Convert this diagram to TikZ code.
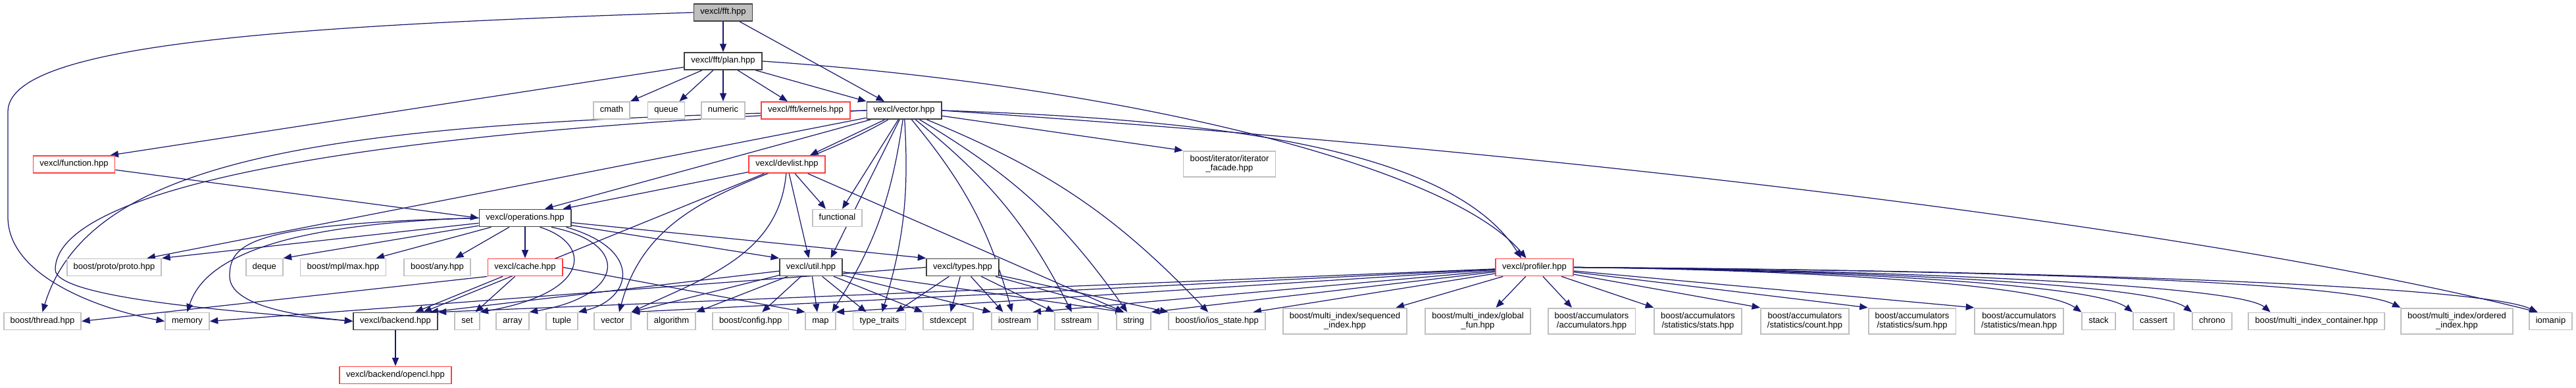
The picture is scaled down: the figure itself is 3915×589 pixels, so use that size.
\documentclass[tikz,border=0pt]{standalone}
\usepackage{fontspec}
\setmainfont{Liberation Sans}
\usetikzlibrary{arrows.meta, backgrounds}
\definecolor{edgeBlue}{HTML}{191970}
\definecolor{boxGray}{HTML}{BFBFBF}
\definecolor{boxDark}{HTML}{404040}
\definecolor{boxRed}{HTML}{FF4040}

\begin{document}
\begin{tikzpicture}[x=0.02cm, y=0.02cm,
    hbox/.style={rectangle, draw, fill=white, line width=1pt, minimum height=0.5cm,
      inner xsep=0.2cm, inner ysep=0.12cm, align=center, font=\fontsize{7.4}{8}\selectfont\strut},
    docbox/.style={hbox, draw=boxDark},
    sysbox/.style={hbox, draw=boxGray},
    redbox/.style={hbox, draw=boxRed},
    rootbox/.style={hbox, draw=boxDark, fill=boxGray},
    inc/.style={-{Triangle[length=0.25cm, width=0.2cm]}, edgeBlue, line width=0.7pt}
  ]
  \useasboundingbox (0,0) rectangle (3915,-589);

  % top of the graph
  \node[rootbox] (fft) at (1099,-19) {vexcl/fft.hpp};
  \node[docbox] (plan) at (1099,-93) {vexcl/fft/plan.hpp};
  \node[sysbox] (cmath) at (929.5,-168) {cmath};
  \node[sysbox] (queue) at (1012.5,-168) {queue};
  \node[sysbox] (numeric) at (1099,-168) {numeric};
  \node[redbox] (kernels) at (1224.5,-168) {vexcl/fft/kernels.hpp};
  \node[docbox] (vectorh) at (1374,-168) {vexcl/vector.hpp};
  \node[redbox] (function) at (112.5,-250) {vexcl/function.hpp};
  \node[redbox] (devlist) at (1196,-250) {vexcl/devlist.hpp};
  \node[sysbox] (facade) at (1868.5,-249.5) {boost/iterator/iterator\\\_facade.hpp};
  \node[docbox] (ops) at (798,-331.5) {vexcl/operations.hpp};
  \node[sysbox] (functional) at (1272.5,-331.5) {functional};

  % middle row
  \node[sysbox] (proto) at (173.5,-406.5) {boost/proto/proto.hpp};
  \node[sysbox] (deque) at (401.7,-406.5) {deque};
  \node[sysbox] (mpl) at (521.5,-406.5) {boost/mpl/max.hpp};
  \node[sysbox] (any) at (664.5,-406.5) {boost/any.hpp};
  \node[redbox] (cache) at (798,-406.5) {vexcl/cache.hpp};
  \node[docbox] (util) at (1232.5,-406.5) {vexcl/util.hpp};
  \node[docbox] (types) at (1463,-406.5) {vexcl/types.hpp};
  \node[redbox] (profiler) at (2332,-406.5) {vexcl/profiler.hpp};

  % bottom row
  \node[sysbox] (thread) at (64.5,-488.5) {boost/thread.hpp};
  \node[sysbox] (memory) at (284.5,-488.5) {memory};
  \node[docbox] (backend) at (601,-488.5) {vexcl/backend.hpp};
  \node[sysbox] (set) at (710,-488.5) {set};
  \node[sysbox] (array) at (779,-488.5) {array};
  \node[sysbox] (tuple) at (854,-488.5) {tuple};
  \node[sysbox] (vecstd) at (931,-488.5) {vector};
  \node[sysbox] (algorithm) at (1020.5,-488.5) {algorithm};
  \node[sysbox] (config) at (1140.7,-488.5) {boost/config.hpp};
  \node[sysbox] (map) at (1247,-488.5) {map};
  \node[sysbox] (traits) at (1336.5,-488.5) {type\_traits};
  \node[sysbox] (stdexcept) at (1441,-488.5) {stdexcept};
  \node[sysbox] (iostream) at (1542,-488.5) {iostream};
  \node[sysbox] (sstream) at (1636,-488.5) {sstream};
  \node[sysbox] (string) at (1723,-488.5) {string};
  \node[sysbox] (iosstate) at (1849.5,-488.5) {boost/io/ios\_state.hpp};
  \node[sysbox] (sequenced) at (2044,-488.5) {boost/multi\_index/sequenced\\\_index.hpp};
  \node[sysbox] (globalfun) at (2246,-488.5) {boost/multi\_index/global\\\_fun.hpp};
  \node[sysbox] (accum) at (2419,-488.5) {boost/accumulators\\/accumulators.hpp};
  \node[sysbox] (stats) at (2580.5,-488.5) {boost/accumulators\\/statistics/stats.hpp};
  \node[sysbox] (count) at (2743,-488.5) {boost/accumulators\\/statistics/count.hpp};
  \node[sysbox] (sum) at (2906,-488.5) {boost/accumulators\\/statistics/sum.hpp};
  \node[sysbox] (mean) at (3068.6,-488.5) {boost/accumulators\\/statistics/mean.hpp};
  \node[sysbox] (stack) at (3189.5,-488.5) {stack};
  \node[sysbox] (cassert) at (3273,-488.5) {cassert};
  \node[sysbox] (chrono) at (3362,-488.5) {chrono};
  \node[sysbox] (container) at (3520.5,-488.5) {boost/multi\_index\_container.hpp};
  \node[sysbox] (ordered) at (3734,-488.5) {boost/multi\_index/ordered\\\_index.hpp};
  \node[sysbox] (iomanip) at (3876.5,-488.5) {iomanip};
  \node[redbox] (opencl) at (601,-570.5) {vexcl/backend/opencl.hpp};

  \begin{scope}[on background layer]
    % fft.hpp
    \draw[inc] (fft) -- (plan);
    \draw[inc] (fft) -- ([xshift=-0.6cm]vectorh.north);
    \draw[inc] (fft.west) .. controls (400,-40) and (12,-70) .. (12,-170) -- (12,-330) .. controls (12,-420) and (150,-470) .. (memory.west);

    % plan.hpp
    \draw[inc] (plan) -- (cmath.north east);
    \draw[inc] (plan) -- ([xshift=0.4cm]queue.north);
    \draw[inc] (plan) -- (numeric);
    \draw[inc] (plan) -- ([xshift=-0.55cm]kernels.north);
    \draw[inc] (plan) -- (vectorh.north west);
    \draw[inc] (plan) -- ([xshift=1.1cm]function.north);
    \draw[inc] (plan.east) .. controls (1700,-130) and (2200,-250) .. ([xshift=-0.25cm]profiler.north);

    \draw[inc] (function) -- (ops.west);

    % vector.hpp
    \draw[inc] (vectorh.west) .. controls (550,-185) and (140,-225) .. (thread.north);
    \draw[inc] (vectorh.west) .. controls (450,-205) and (84,-300) .. (84,-410) .. controls (84,-455) and (380,-475) .. (backend.west);
    \draw[inc] (vectorh) -- ([xshift=1cm]proto.north);
    \draw[inc] (vectorh) -- ([xshift=0.6cm]ops.north);
    \draw[inc] (vectorh) -- ([xshift=0.7cm]devlist.north);
    \draw[inc] (vectorh) to[out=-150, in=75] ([xshift=0.2cm]vecstd.north);
    \draw[inc] (vectorh) -- ([xshift=0.15cm]functional.north);
    \draw[inc] (vectorh) -- ([xshift=0.6cm]util.north);
    \draw[inc] (vectorh) to[bend left=12] ([xshift=0.35cm]map.north);
    \draw[inc] (vectorh) to[bend left=10] (traits);
    \draw[inc] (vectorh) to[bend left=12] (iostream);
    \draw[inc] (vectorh) to[bend left=12] (sstream);
    \draw[inc] (vectorh) to[bend left=12] (string);
    \draw[inc] (vectorh) to[bend left=12] (iosstate);
    \draw[inc] (vectorh) -- (facade.north west);
    \draw[inc] (vectorh.east) .. controls (1800,-180) and (2200,-215) .. ([xshift=-0.4cm]profiler.north);
    \draw[inc] (vectorh.east) .. controls (2500,-240) and (3400,-360) .. ([xshift=-0.4cm]iomanip.north);

    % devlist.hpp
    \draw[inc] (devlist) -- ([xshift=1.15cm]ops.north);
    \draw[inc] (devlist) -- ([xshift=0.85cm]backend.north);
    \draw[inc] (devlist) to[out=-95, in=25] (vecstd.north east);
    \draw[inc] (devlist) -- (util);
    \draw[inc] (devlist) -- ([xshift=-0.35cm]functional.north);
    \draw[inc] (devlist) -- ([xshift=-0.3cm]string.north);

    % operations.hpp
    \draw[inc] (ops) -- (proto.north east);
    \draw[inc] (ops.west) .. controls (420,-340) and (310,-395) .. (memory.north);
    \draw[inc] (ops.west) .. controls (380,-340) and (349,-370) .. (349,-420) .. controls (349,-465) and (450,-480) .. (backend.west);
    \draw[inc] (ops) -- (deque.north east);
    \draw[inc] (ops) -- ([xshift=1cm]mpl.north);
    \draw[inc] (ops) -- ([xshift=0.55cm]any.north);
    \draw[inc] (ops) -- (cache);
    \draw[inc] ([xshift=0.45cm]ops.south) .. controls (900,-370) and (900,-445) .. (set.north east);
    \draw[inc] ([xshift=0.8cm]ops.south) .. controls (960,-370) and (950,-450) .. (array.north east);
    \draw[inc] ([xshift=1.25cm]ops.south) .. controls (980,-380) and (960,-455) .. (tuple.north east);
    \draw[inc] (ops) -- (util.north west);
    \draw[inc] (ops) -- (types.north west);

    % cache.hpp
    \draw[inc] (cache.south west) -- (thread.east);
    \draw[inc] (cache) -- ([xshift=0.6cm]backend.north);
    \draw[inc] (cache) -- ([xshift=0.25cm]set.north);
    \draw[inc] (cache.east) -- (map.north west);

    % util.hpp
    \draw[inc] (util) -- ([xshift=1.05cm]backend.north);
    \draw[inc] (util) -- (vecstd.north east);
    \draw[inc] (util) -- (algorithm.north east);
    \draw[inc] (util) -- ([xshift=0.35cm]config.north);
    \draw[inc] (util) -- ([xshift=-0.1cm]map.north);
    \draw[inc] (util) -- ([xshift=-0.4cm]traits.north);
    \draw[inc] (util) -- (stdexcept.north west);
    \draw[inc] (util) -- (iostream.north west);
    \draw[inc] (util) -- ([xshift=-0.3cm]string.north);

    % types.hpp
    \draw[inc] (types.west) -- (memory.east);
    \draw[inc] (types) -- ([xshift=0.5cm]traits.north);
    \draw[inc] (types) -- (stdexcept);
    \draw[inc] (types) -- ([xshift=-0.35cm]iostream.north);
    \draw[inc] (types) -- (sstream.north west);
    \draw[inc] (types) -- ([xshift=-0.3cm]string.north);
    \draw[inc] (types) -- (iosstate.north west);

    % profiler.hpp
    \draw[inc] (profiler) -- (backend.north east);
    \draw[inc] (profiler) -- (vecstd.north east);
    \draw[inc] (profiler) -- (map.north east);
    \draw[inc] (profiler) -- ([xshift=0.55cm]iostream.north);
    \draw[inc] (profiler) -- (string.north east);
    \draw[inc] (profiler) -- ([xshift=1.1cm]iosstate.north);
    \draw[inc] (profiler) -- ([xshift=-0.35cm]sequenced.north east);
    \draw[inc] (profiler) -- ([xshift=0.55cm]globalfun.north);
    \draw[inc] (profiler) -- ([xshift=-0.6cm]accum.north);
    \draw[inc] (profiler) -- (stats.north west);
    \draw[inc] (profiler) -- (count.north west);
    \draw[inc] (profiler) -- (sum.north west);
    \draw[inc] (profiler) -- (mean.north west);
    \draw[inc] (profiler.east) .. controls (2710,-410) and (3100,-430) .. (stack.north west);
    \draw[inc] (profiler.east) .. controls (2744,-410) and (3183,-430) .. (cassert.north west);
    \draw[inc] (profiler.east) .. controls (2780,-410) and (3272,-430) .. (chrono.north west);
    \draw[inc] (profiler.east) .. controls (2843,-410) and (3400,-432) .. ([xshift=-1.4cm]container.north);
    \draw[inc] (profiler.east) .. controls (2928,-410) and (3560,-425) .. (ordered.north west);
    \draw[inc] (profiler.east) .. controls (2985,-410) and (3760,-430) .. ([xshift=-0.4cm]iomanip.north);

    \draw[inc] (backend) -- (opencl);
  \end{scope}
\end{tikzpicture}
\end{document}
